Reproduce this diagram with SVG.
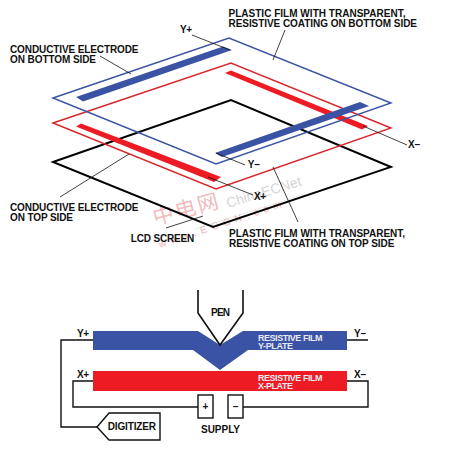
<svg xmlns="http://www.w3.org/2000/svg" width="462" height="452" viewBox="0 0 462 452">
<style>
text{font-family:"Liberation Sans",Arial,sans-serif;font-weight:700;fill:#111}
.t{font-size:10px}
.w{font-size:9px;fill:#e8eaf2}
.q{fill:none;stroke-width:1.4;stroke-linejoin:miter}
.k{stroke:#000;stroke-width:1.9}
.ld{fill:none;stroke:#111;stroke-width:.8}
.wire{fill:none;stroke:#111;stroke-width:1.4}
.blue{fill:#3a53a4}.red{fill:#ed1c24}
.wm1{font-weight:400;fill:#f1bcbc;font-size:21px;font-family:"Noto Sans CJK SC",sans-serif}
.wm2{font-weight:400;fill:#d4d4d6;font-size:14px}
.wm3{font-weight:400;fill:#eeb4b4;font-size:10px}
</style>
<rect width="462" height="452" fill="#fff"/>
<g id="watermark">
<text class="wm1" transform="translate(155,225) rotate(-15)" letter-spacing="2">中电网</text>
<text class="wm2" transform="translate(228,208) rotate(-17)">ChinaECNet</text>
<text class="wm3" transform="translate(160,248) rotate(-18.500)" letter-spacing="5">www.ECCN.com</text>
<path d="M195,229L305,194" fill="none" stroke="#cfcfcf" stroke-width=".6" stroke-dasharray="2 1"/>
</g>
<g id="lcd-screen"><polygon class="q k" points="53,162 231,100 391,167 213,227"/></g>
<g id="x-plate">
<polygon class="q" stroke="#d8252b" points="53,123 231,63 391,128 216,189"/>
<polygon class="red" points="225,73 231,70.500 368,126 362,129.500"/>
<polygon class="red" points="76,126.500 81,123.500 221,177 214,182"/>
</g>
<g id="y-plate">
<polygon class="q" stroke="#3a53a4" points="53,98 229,38 391,103 216,164"/>
<polygon class="blue" points="76,97 223,46.500 232,50 83,101.500"/>
<polygon class="blue" points="215,153 360,102 369,106 222,157"/>
</g>
<g id="connectors">
<path class="ld" d="M192,35L230,50M100,56L131,74M285,30L273,60M60,197L129,154M363,126L407,145M216,153L245,165M208,177L253,195M273,167L298,222M166,228L203,216"/>
<path class="wire" d="M93,340H61V427H97M93,381H73V407H198M243,407H368V381H347M347,340H368"/>
</g>
<g id="labels-top">
<text class="t" x="180" y="33" textLength="12">Y+</text>
<text class="t" x="228.500" y="17.300" textLength="177">PLASTIC FILM WITH TRANSPARENT,</text>
<text class="t" x="228.500" y="27.300" textLength="188.500">RESISTIVE COATING ON BOTTOM SIDE</text>
<text class="t" x="10" y="52.700" textLength="128.500">CONDUCTIVE ELECTRODE</text>
<text class="t" x="10" y="62.700" textLength="86">ON BOTTOM SIDE</text>
<text class="t" x="408" y="148" textLength="12">X–</text>
<text class="t" x="247.700" y="168" textLength="12">Y–</text>
<text class="t" x="254" y="200" textLength="12">X+</text>
<text class="t" x="10" y="210.700" textLength="128.500">CONDUCTIVE ELECTRODE</text>
<text class="t" x="10" y="220.700" textLength="63">ON TOP SIDE</text>
<text class="t" x="130.700" y="241.700" textLength="63.600">LCD SCREEN</text>
<text class="t" x="229" y="236.700" textLength="176">PLASTIC FILM WITH TRANSPARENT,</text>
<text class="t" x="229" y="246.700" textLength="165.300">RESISTIVE COATING ON TOP SIDE</text>
</g>
<g id="y-film">
<polygon class="blue" points="93,331 198,331 220,345 243,331 347,331 347,350 248,350 220,370 193,350 93,350"/>
<text class="w" x="258" y="340.500" textLength="64.500">RESISTIVE FILM</text>
<text class="w" x="258" y="349" textLength="35">Y-PLATE</text>
</g>
<g id="x-film">
<rect class="red" x="93" y="371" width="254" height="20"/>
<text class="w" x="258" y="380.500" textLength="64.500">RESISTIVE FILM</text>
<text class="w" x="258" y="389" textLength="35">X-PLATE</text>
</g>
<g id="pen">
<path fill="none" stroke="#111" stroke-width="1.6" d="M198,290V313L220,345L243,313V290"/>
<text class="t" x="211" y="316" textLength="19">PEN</text>
</g>
<g id="terminals">
<text class="t" x="77" y="337" textLength="12">Y+</text>
<text class="t" x="77" y="378" textLength="12">X+</text>
<text class="t" x="354" y="337" textLength="12">Y–</text>
<text class="t" x="354" y="378" textLength="12">X–</text>
</g>
<g id="digitizer">
<polygon fill="#fff" stroke="#111" stroke-width="1.4" points="97,427 109,413 160,413 160,440 109,440"/>
<text class="t" x="107.700" y="430" textLength="48.300">DIGITIZER</text>
</g>
<g id="supply">
<rect x="198" y="395" width="15" height="23" fill="#fff" stroke="#111" stroke-width="1.4"/>
<rect x="228" y="395" width="15" height="23" fill="#fff" stroke="#111" stroke-width="1.4"/>
<text class="t" x="205.500" y="410" text-anchor="middle">+</text>
<text class="t" x="235.500" y="410" text-anchor="middle">–</text>
<text class="t" x="201" y="433" textLength="39">SUPPLY</text>
</g>
</svg>
